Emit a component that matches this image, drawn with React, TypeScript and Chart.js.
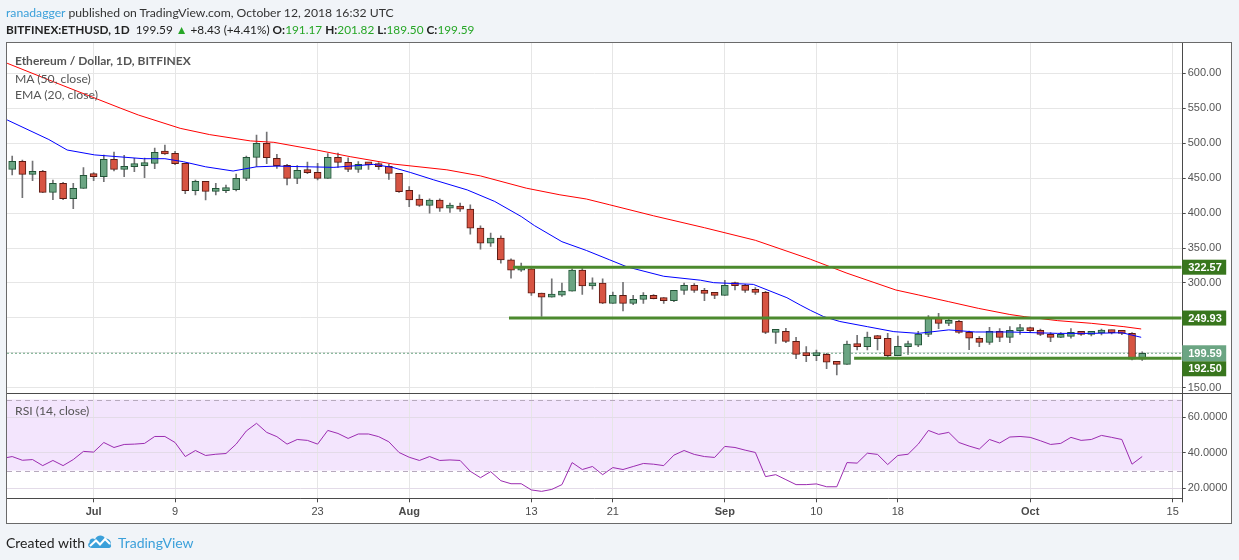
import React, { useEffect, useRef } from 'react';
import { Chart, registerables } from 'chart.js';

Chart.register(...registerables);

// ---- Data (day index 0 = Jun 23, 2018) ----
const opens = [
  462.4, 473.8, 455.2, 459.5, 429.5, 442.4, 420.5, 435.2, 453.8, 452.0,
  476.7, 462.4, 466.2, 467.6, 471.0, 486.7, 485.2, 471.0, 431.9, 445.2,
  430.9, 431.9, 433.3, 449.5, 479.5, 499.5, 478.1, 468.1, 449.5, 460.5,
  458.1, 449.5, 479.5, 472.4, 462.4, 469.5, 469.5, 466.7, 456.7, 432.4,
  419.8, 410.8, 418.4, 407.0, 409.8, 405.5, 378.4, 357.0, 364.1, 333.1,
  318.4, 320.3, 285.5, 279.8, 282.7, 288.4, 318.4, 296.0, 299.8, 270.9,
  282.4, 270.9, 276.7, 282.4, 277.7, 274.8, 289.5, 296.7, 289.5, 285.2,
  282.4, 297.6, 296.7, 289.5, 286.7, 229.5, 230.9, 216.7, 198.1, 196.2,
  198.1, 187.1, 183.8, 212.9, 209.0, 222.9, 221.0, 196.2, 209.0, 211.0,
  226.7, 250.0, 242.4, 245.2, 229.5, 221.0, 215.2, 231.0, 222.4, 231.9,
  233.8, 232.4, 226.7, 222.4, 223.8, 229.5, 226.7, 228.6, 231.0, 229.5,
  228.1, 191.17,
];
const highs = [
  481.4, 475.7, 474.3, 461.0, 447.1, 443.8, 442.4, 464.8, 457.6, 482.9,
  487.1, 482.4, 478.1, 478.6, 492.9, 497.1, 488.1, 471.0, 447.1, 445.2,
  442.4, 440.0, 455.7, 481.4, 511.4, 515.7, 483.8, 469.5, 467.6, 472.9,
  471.0, 484.8, 485.7, 479.0, 473.3, 472.4, 471.9, 469.5, 456.7, 437.6,
  426.0, 420.3, 420.3, 414.1, 414.1, 411.7, 381.7, 371.2, 367.4, 334.6,
  328.4, 323.6, 285.5, 306.0, 299.8, 320.3, 322.7, 307.4, 306.0, 287.1,
  301.0, 282.4, 286.2, 283.4, 279.1, 289.5, 300.0, 299.0, 292.4, 286.7,
  303.8, 301.4, 298.1, 293.4, 288.1, 233.8, 235.2, 222.4, 209.0, 204.3,
  199.5, 187.6, 217.1, 225.2, 230.0, 225.2, 228.1, 224.3, 217.1, 231.0,
  253.3, 256.7, 251.0, 246.7, 231.4, 223.3, 236.7, 234.8, 237.6, 241.0,
  237.1, 234.3, 229.0, 229.0, 234.8, 231.0, 229.5, 234.3, 232.9, 231.0,
  229.0, 201.82,
];
const lows = [
  454.3, 421.9, 446.2, 429.0, 419.0, 419.0, 406.2, 435.0, 446.2, 444.8,
  460.0, 451.9, 459.0, 450.5, 463.3, 483.8, 469.0, 427.6, 425.7, 418.6,
  425.7, 429.0, 431.4, 446.2, 466.2, 470.5, 463.8, 440.0, 441.9, 456.2,
  447.1, 449.5, 465.2, 459.0, 458.1, 462.4, 462.4, 448.1, 429.5, 409.0,
  409.3, 399.8, 402.2, 400.8, 402.2, 369.8, 348.4, 352.2, 328.4, 306.9,
  316.5, 282.2, 252.2, 279.8, 280.8, 288.4, 283.6, 291.2, 270.3, 270.9,
  260.0, 269.1, 270.9, 277.2, 270.9, 273.4, 283.8, 286.7, 274.8, 277.6,
  282.4, 290.0, 286.7, 283.8, 227.6, 213.8, 214.8, 191.9, 187.6, 189.0,
  177.6, 168.6, 183.8, 204.3, 204.3, 204.3, 193.8, 196.2, 198.1, 209.0,
  223.3, 234.8, 239.0, 228.1, 204.8, 209.0, 212.4, 216.2, 214.8, 226.7,
  229.0, 224.8, 216.2, 221.9, 221.0, 225.2, 224.3, 225.7, 227.1, 226.2,
  190.0, 189.50,
];
const closes = [
  473.8, 455.2, 459.5, 429.5, 442.4, 420.5, 435.2, 453.8, 452.0, 476.7,
  462.4, 466.7, 468.6, 471.0, 486.7, 484.3, 470.5, 431.9, 445.2, 431.0,
  432.4, 434.3, 449.5, 479.5, 499.5, 479.0, 467.6, 449.5, 461.0, 457.6,
  449.5, 479.5, 472.4, 462.4, 469.5, 469.0, 466.2, 456.7, 430.5, 418.6,
  410.8, 418.4, 407.0, 409.8, 405.5, 378.4, 357.0, 364.1, 333.1, 318.4,
  320.3, 285.5, 279.8, 283.1, 288.4, 318.4, 296.0, 299.8, 271.2, 282.4,
  270.9, 276.7, 282.4, 277.7, 274.8, 289.5, 296.7, 289.5, 285.2, 282.4,
  296.7, 296.2, 289.5, 286.7, 229.5, 231.0, 216.7, 198.0, 196.2, 198.1,
  186.7, 183.8, 212.9, 209.0, 222.9, 220.5, 196.2, 209.5, 211.0, 227.1,
  250.0, 242.4, 245.2, 229.5, 221.0, 215.2, 231.0, 222.4, 232.4, 233.8,
  231.9, 226.7, 222.4, 223.8, 229.5, 226.7, 228.6, 231.0, 229.0, 228.1,
  191.2, 199.59,
];

// RSI(14), starting one day before the first candle (day -1)
const rsiStartDay = -1;
const rsiValues = [
  36.8, 37.9, 35.8, 36.2, 32.8, 35.7, 32.8, 36.2, 40.8, 40.4, 45.8,
  43.0, 44.7, 44.9, 45.3, 49.2, 49.2, 45.8, 37.9, 41.3, 38.5,
  39.2, 39.6, 44.9, 52.3, 56.6, 51.5, 49.1, 44.9, 47.5, 47.0,
  44.9, 52.6, 50.9, 48.1, 50.6, 50.6, 49.1, 46.2, 40.2, 37.5,
  35.7, 37.9, 35.7, 36.0, 35.7, 29.6, 26.0, 29.4, 24.3, 22.6,
  22.6, 19.1, 18.3, 19.4, 22.1, 34.5, 30.6, 32.3, 27.7, 31.7,
  30.6, 32.3, 34.0, 33.6, 32.8, 38.7, 41.3, 39.1, 37.9, 37.4,
  43.6, 43.0, 41.5, 40.2, 26.6, 27.7, 24.9, 22.1, 22.1, 22.5,
  20.9, 20.9, 34.5, 34.2, 39.8, 39.1, 33.4, 38.5, 39.2, 44.9,
  52.6, 50.4, 51.5, 45.8, 43.8, 42.1, 47.5, 45.5, 48.9, 49.2,
  48.7, 46.8, 44.7, 45.3, 48.7, 47.0, 47.5, 49.8, 48.7, 47.5,
  33.6, 37.9,
];

// MA(50) and EMA(20) at sample days
const maDays = [-0.5, 5, 10.6, 12.4, 16.5, 19.4, 23.4, 25.7, 29.9, 33.2, 37.4, 42.7, 46, 50.5, 53.8, 56.4, 58.7, 63, 68, 73, 78.4, 82, 86.8, 89, 92, 94.9, 98, 99.4, 102.7, 106, 109.2, 110.9];
const maValues = [614, 582, 550, 540, 521, 512, 503, 501, 490, 480.5, 470, 461.7, 453, 435.5, 426, 420, 411.7, 396, 379, 361, 334, 314, 290, 283, 273.3, 263.8, 255, 252, 246.2, 242.4, 237.6, 234.3];
const emaDays = [-0.5, 3.6, 5.4, 8.1, 12.9, 15, 16.8, 19, 21.7, 24, 26, 31.6, 35.5, 37.4, 39.1, 41.4, 44.7, 47.4, 50, 51.3, 54, 56.4, 58.7, 60.4, 64, 67.6, 68.9, 72.8, 76.1, 77.4, 78.4, 79.7, 81.3, 84, 86.6, 89, 92, 94.6, 98, 102.7, 106, 109, 110.9];
const emaValues = [533, 505, 490, 483, 477.6, 477.6, 473.3, 466, 460, 466, 467, 465.2, 469.5, 465, 458, 447.4, 433, 416.5, 395, 382, 359, 346.5, 333, 323, 309.6, 304, 300.5, 298, 279, 268.6, 261, 252, 245, 237.6, 230.5, 228, 233, 230, 230, 228, 228, 229, 222.4];

// Horizontal support / resistance levels
const levelValues = [322.57, 249.93, 192.5];
const levelStartDays = [49.2, 48.8, 82.7];
const lastPrice = 199.59;

// Axis ticks
const tickDays = [8, 16, 30, 39, 51, 59, 70, 79, 87, 100, 114];
const tickLabels = ['Jul', '9', '23', 'Aug', '13', '21', 'Sep', '10', '18', 'Oct', '15'];
const monthLabels = ['Jul', 'Aug', 'Sep', 'Oct'];
const priceTicks = [150, 200, 250, 300, 350, 400, 450, 500, 550, 600];
const rsiTicks = [20, 40, 60];

const X_MIN = -0.51;
const X_MAX = 114.88;

const UP_FILL = '#6ba583';
const UP_BORDER = '#225437';
const DOWN_FILL = '#d75442';
const DOWN_BORDER = '#5b1a13';
const WICK = '#737375';
const LEVEL = '#4c8a2e';
const LEVEL_LABEL = '#38761d';
const AXIS_FONT = 'Liberation Sans, Arial, sans-serif';

const framePlugin = {
  id: 'tvFrame',
  beforeDraw(chart: any) {
    const { ctx, chartArea } = chart;
    const rsi = chart.scales.rsi;
    ctx.save();
    ctx.fillStyle = '#ffffff';
    ctx.fillRect(chartArea.left, chartArea.top, 1231.7 - chartArea.left, 523.3 - chartArea.top);
    const y70 = rsi.getPixelForValue(70);
    const y30 = rsi.getPixelForValue(30);
    ctx.fillStyle = '#f3e5fd';
    ctx.fillRect(chartArea.left, y70, chartArea.right - chartArea.left, y30 - y70);
    ctx.restore();
  },
  beforeDatasetsDraw(chart: any) {
    const { ctx, chartArea } = chart;
    const rsi = chart.scales.rsi;
    ctx.save();
    ctx.strokeStyle = '#b7aabd';
    ctx.lineWidth = 1;
    ctx.setLineDash([5, 4]);
    [70, 30].forEach((v) => {
      const y = Math.round(rsi.getPixelForValue(v)) + 0.5;
      ctx.beginPath();
      ctx.moveTo(chartArea.left, y);
      ctx.lineTo(chartArea.right, y);
      ctx.stroke();
    });
    ctx.restore();
  },
  afterDraw(chart: any) {
    const { ctx, chartArea } = chart;
    const price = chart.scales.y;
    ctx.save();
    ctx.strokeStyle = '#4a4a4a';
    ctx.lineWidth = 1;
    const r = Math.round(chartArea.right) + 0.5;
    const sep = Math.round(price.bottom) + 0.5;
    const bot = Math.round(chartArea.bottom) + 0.5;
    ctx.beginPath();
    ctx.moveTo(r, chartArea.top);
    ctx.lineTo(r, chartArea.bottom + 4);
    ctx.moveTo(chartArea.left, sep);
    ctx.lineTo(1231.5, sep);
    ctx.moveTo(chartArea.left, bot);
    ctx.lineTo(r, bot);
    ctx.stroke();
    ctx.strokeStyle = '#6a6a6a';
    ctx.strokeRect(6.5, 42.5, 1225, 481);

    // price labels on the axis
    const labels = [
      { v: lastPrice, c: UP_FILL, h: 16 },
      ...levelValues.map((v) => ({ v, c: LEVEL_LABEL, h: 15 })),
    ].map((l) => ({ ...l, y: price.getPixelForValue(l.v), top: 0 }));
    const lp = labels[0];
    lp.top = lp.y - lp.h / 2;
    labels.slice(1).forEach((l) => {
      l.top = l.y - l.h / 2;
      if (l.y > lp.y && l.top < lp.top + lp.h) l.top = lp.top + lp.h;
      if (l.y <= lp.y && l.top + l.h > lp.top) l.top = lp.top - l.h;
    });
    labels.forEach((l) => {
      ctx.fillStyle = l.c;
      ctx.fillRect(chartArea.right + 0.5, l.top, 44, l.h);
      ctx.fillStyle = '#ffffff';
      ctx.font = `bold 11px ${AXIS_FONT}`;
      ctx.textBaseline = 'middle';
      ctx.textAlign = 'left';
      ctx.fillText(l.v.toFixed(2), chartArea.right + 6.5, l.top + l.h / 2 + 0.5);
    });
    ctx.restore();
  },
};

export default function App() {
  const canvasRef = useRef<HTMLCanvasElement | null>(null);

  useEffect(() => {
    const days = opens.map((_, i) => i);
    const up = days.map((i) => closes[i] >= opens[i]);

    const bodies = days.map((i) => ({ x: i, y: [opens[i], closes[i]] }));
    const wicks = days.map((i) => ({ x: i, y: [lows[i], highs[i]] }));
    const maData = maDays.map((d, i) => ({ x: d, y: maValues[i] }));
    const emaData = emaDays.map((d, i) => ({ x: d, y: emaValues[i] }));
    const rsiData = rsiValues.map((v, i) => ({ x: rsiStartDay + i, y: v }));

    const levelSets = levelValues.map((v, i) => ({
      type: 'line' as const,
      data: [
        { x: levelStartDays[i], y: v },
        { x: X_MAX, y: v },
      ],
      borderColor: LEVEL,
      borderWidth: 3,
      pointRadius: 0,
      yAxisID: 'y',
      order: 0,
    }));

    const chart = new Chart(canvasRef.current!, {
      type: 'line',
      data: {
        datasets: [
          ...levelSets,
          {
            type: 'line',
            data: [
              { x: X_MIN, y: lastPrice },
              { x: X_MAX, y: lastPrice },
            ],
            borderColor: UP_FILL,
            borderWidth: 1,
            borderDash: [2, 2],
            pointRadius: 0,
            yAxisID: 'y',
            order: 3,
          },
          {
            type: 'line',
            data: maData,
            borderColor: '#ff0000',
            borderWidth: 1,
            pointRadius: 0,
            tension: 0,
            yAxisID: 'y',
            order: 1,
          },
          {
            type: 'line',
            data: emaData,
            borderColor: '#0000ff',
            borderWidth: 1,
            pointRadius: 0,
            tension: 0,
            yAxisID: 'y',
            order: 1,
          },
          {
            type: 'bar',
            data: bodies as any,
            backgroundColor: days.map((i) => (up[i] ? UP_FILL : DOWN_FILL)),
            borderColor: days.map((i) => (up[i] ? UP_BORDER : DOWN_BORDER)),
            borderWidth: 1,
            borderSkipped: false,
            barThickness: 7,
            minBarLength: 3,
            grouped: false,
            yAxisID: 'y',
            order: 2,
          },
          {
            type: 'bar',
            data: wicks as any,
            backgroundColor: WICK,
            borderWidth: 0,
            barThickness: 1,
            grouped: false,
            yAxisID: 'y',
            order: 4,
          },
          {
            type: 'line',
            data: rsiData,
            borderColor: '#9b2bb0',
            borderWidth: 1,
            pointRadius: 0,
            tension: 0,
            yAxisID: 'rsi',
            order: 1,
          },
        ] as any,
      },
      options: {
        animation: false,
        responsive: true,
        maintainAspectRatio: false,
        events: [],
        layout: { padding: { left: 7, top: 42.3, right: 7.3, bottom: 36.7 } },
        plugins: { legend: { display: false }, tooltip: { enabled: false } },
        scales: {
          x: {
            type: 'linear',
            min: X_MIN,
            max: X_MAX,
            offset: false,
            border: { display: false },
            grid: { color: '#e6e6e6', tickColor: '#4a4a4a', tickLength: 4, offset: false },
            afterBuildTicks: (s: any) => {
              s.ticks = tickDays.map((v) => ({ value: v }));
            },
            afterFit: (s: any) => {
              s.height = 25;
            },
            ticks: {
              autoSkip: false,
              maxRotation: 0,
              padding: 3,
              color: '#4a4a4a',
              font: (c: any) => ({
                family: AXIS_FONT,
                size: 11,
                weight: monthLabels.includes(tickLabels[c.index]) ? 'bold' : 'normal',
              }),
              callback: (_v: any, i: number) => tickLabels[i],
            },
          },
          y: {
            type: 'linear',
            position: 'right',
            stack: 'panes',
            stackWeight: 351,
            weight: 0,
            min: 142.4,
            max: 643.9,
            border: { display: false },
            grid: { color: '#e6e6e6', tickColor: '#4a4a4a', tickLength: 4 },
            afterBuildTicks: (s: any) => {
              s.ticks = priceTicks.map((v) => ({ value: v }));
            },
            afterFit: (s: any) => {
              s.width = 50;
            },
            ticks: {
              autoSkip: false,
              padding: 2,
              color: '#555555',
              font: { family: AXIS_FONT, size: 11 },
              callback: (v: any) => Number(v).toFixed(2),
            },
          },
          rsi: {
            type: 'linear',
            position: 'right',
            stack: 'panes',
            stackWeight: 105,
            weight: 1,
            min: 14.4,
            max: 73.5,
            border: { display: false },
            grid: { color: '#e3dbe8', tickColor: '#4a4a4a', tickLength: 4 },
            afterBuildTicks: (s: any) => {
              s.ticks = rsiTicks.map((v) => ({ value: v }));
            },
            afterFit: (s: any) => {
              s.width = 50;
            },
            ticks: {
              autoSkip: false,
              padding: 2,
              color: '#555555',
              font: { family: AXIS_FONT, size: 11 },
              callback: (v: any) => Number(v).toFixed(4),
            },
          },
        },
      } as any,
      plugins: [framePlugin],
    });
    return () => chart.destroy();
  }, []);

  const green = '#26a626';
  const legendStyle: React.CSSProperties = {
    position: 'absolute',
    left: 15,
    fontFamily: 'Lato, sans-serif',
    fontSize: 12.2,
    lineHeight: '16px',
    color: '#555555',
    whiteSpace: 'nowrap',
  };

  return (
    <div
      style={{
        position: 'fixed',
        left: 0,
        top: 0,
        width: 1239,
        height: 560,
        background: '#f1f4f8',
        overflow: 'hidden',
        fontFamily: 'Lato, sans-serif',
      }}
    >
      <div style={{ position: 'absolute', left: 0, top: 0, width: 1239, height: 560 }}>
        <canvas ref={canvasRef} />
      </div>
      <div style={{ position: 'absolute', left: 6, top: 4, fontSize: 12.2, lineHeight: '17px', color: '#333', whiteSpace: 'nowrap' }}>
        <span style={{ color: '#3ba0da' }}>ranadagger</span> published on TradingView.com, October 12, 2018 16:32 UTC
      </div>
      <div style={{ position: 'absolute', left: 6, top: 21, fontSize: 11.8, lineHeight: '17px', color: '#222', whiteSpace: 'nowrap' }}>
        <b>BITFINEX:ETHUSD, 1D</b>&nbsp; 199.59 <span style={{ color: green }}>▲</span> +8.43 (+4.41%) <b>O:</b>
        <span style={{ color: green }}>191.17</span> <b>H:</b>
        <span style={{ color: green }}>201.82</span> <b>L:</b>
        <span style={{ color: green }}>189.50</span> <b>C:</b>
        <span style={{ color: green }}>199.59</span>
      </div>
      <div style={{ ...legendStyle, top: 53, fontWeight: 700, fontSize: 12 }}>Ethereum / Dollar, 1D, BITFINEX</div>
      <div style={{ ...legendStyle, top: 70.5 }}>MA (50, close)</div>
      <div style={{ ...legendStyle, top: 87 }}>EMA (20, close)</div>
      <div style={{ ...legendStyle, top: 403 }}>RSI (14, close)</div>
      <div style={{ position: 'absolute', left: 6, top: 534, fontSize: 14, lineHeight: '17px', color: '#222', whiteSpace: 'nowrap' }}>
        Created with
      </div>
      <svg style={{ position: 'absolute', left: 87, top: 533 }} width={26} height={16} viewBox="0 0 26 16">
        <path d="M5 15 C1 15 0 11 2.5 9.5 C2 6 6 4.5 8 6.5 C9.5 2 16 1 18 5.5 C22 5 25 8.5 23.5 11.5 C25 13.5 23.5 15 21.5 15 Z" fill="#3ba0da" />
        <path d="M3 13 L9 7.5 L13 11.5 L18 6 L23 11" stroke="#ffffff" strokeWidth={2} fill="none" />
      </svg>
      <div style={{ position: 'absolute', left: 118, top: 534, fontSize: 14, lineHeight: '17px', color: '#3ba0da', whiteSpace: 'nowrap' }}>
        TradingView
      </div>
    </div>
  );
}
